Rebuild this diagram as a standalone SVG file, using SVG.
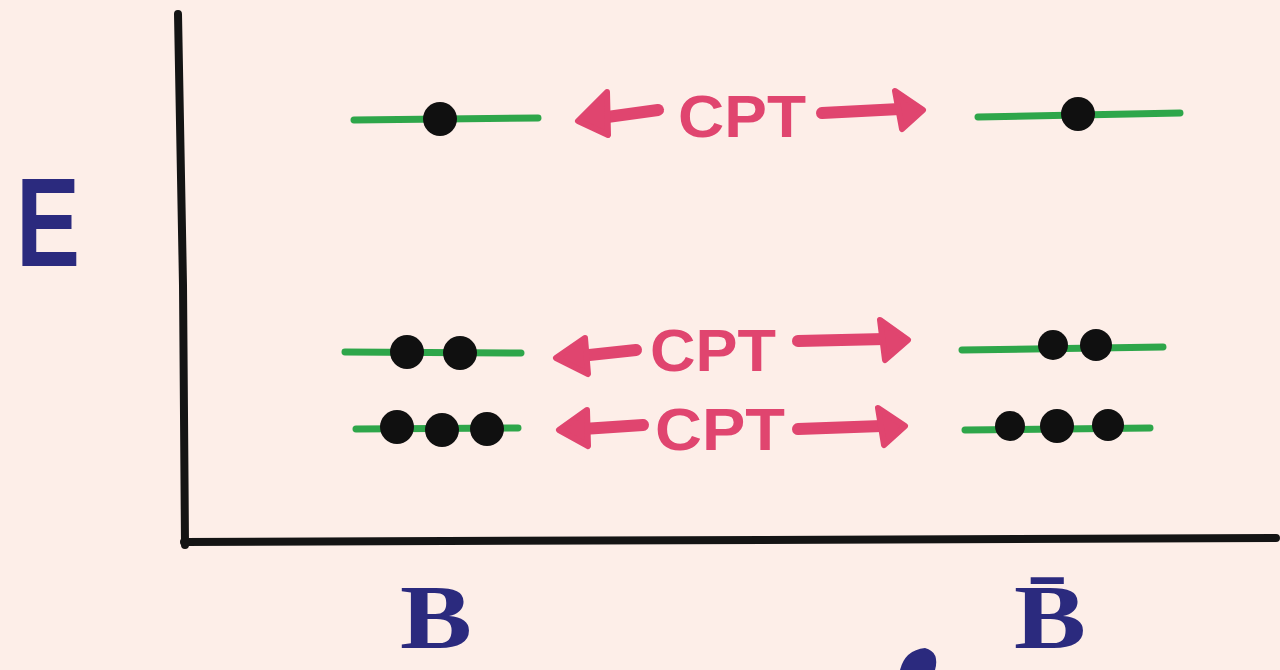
<svg xmlns="http://www.w3.org/2000/svg" width="1280" height="670" viewBox="0 0 1280 670">
<style>
.axis{stroke:#141414;stroke-width:8;stroke-linecap:round;fill:none}
.lvl{stroke:#2ea64a;stroke-width:7;stroke-linecap:round}
.dot{fill:#101010}
.arr{stroke:#e0456f;stroke-width:12;stroke-linecap:round;fill:none}
.head{fill:#e0456f;stroke:#e0456f;stroke-width:6;stroke-linejoin:round}
.cpt{font-family:"Liberation Sans",sans-serif;font-weight:bold;font-size:60px;fill:#e0456f}
.lab{font-family:"Liberation Serif",serif;font-weight:bold;fill:#2b2a7e}
.labs{font-family:"Liberation Sans",sans-serif;font-weight:bold;fill:#2b2a7e}
</style>
<rect width="1280" height="670" fill="#fdeee8"/>
<g id="axes">
<path class="axis" d="M178,14 L183,285 L185,545"/>
<path class="axis" d="M184,542 L1276,538"/>
</g>
<g id="E-label"><text class="labs" x="16" y="266" font-size="126" textLength="64" lengthAdjust="spacingAndGlyphs">E</text></g>
<g id="B-label"><text class="lab" x="400" y="648" font-size="92" textLength="72" lengthAdjust="spacingAndGlyphs">B</text></g>
<g id="Bbar-label"><text class="lab" x="1014" y="648" font-size="92" textLength="72" lengthAdjust="spacingAndGlyphs">B̄</text></g>
<g id="B-level1"><line class="lvl" x1="354" y1="120" x2="538" y2="118"/><circle class="dot" cx="440" cy="119" r="17"/></g>
<g id="Bbar-level1"><line class="lvl" x1="978" y1="117" x2="1180" y2="113"/><circle class="dot" cx="1078" cy="114" r="17"/></g>
<g id="B-level2"><line class="lvl" x1="345" y1="352" x2="521" y2="353"/><circle class="dot" cx="407" cy="352" r="17"/><circle class="dot" cx="460" cy="353" r="17"/></g>
<g id="Bbar-level2"><line class="lvl" x1="962" y1="350" x2="1163" y2="347"/><circle class="dot" cx="1053" cy="345" r="15"/><circle class="dot" cx="1096" cy="345" r="16"/></g>
<g id="B-level3"><line class="lvl" x1="356" y1="429" x2="518" y2="428"/><circle class="dot" cx="397" cy="427" r="17"/><circle class="dot" cx="442" cy="430" r="17"/><circle class="dot" cx="487" cy="429" r="17"/></g>
<g id="Bbar-level3"><line class="lvl" x1="965" y1="430" x2="1150" y2="428"/><circle class="dot" cx="1010" cy="426" r="15"/><circle class="dot" cx="1057" cy="426" r="17"/><circle class="dot" cx="1108" cy="425" r="16"/></g>
<g id="connectors">
<path class="arr" d="M658,110 L600,118"/><path class="head" d="M607,92 L578,121 L608,135 Z"/>
<path class="arr" d="M822,113 L900,109"/><path class="head" d="M895,91 L923,110 L902,129 Z"/>
<path class="arr" d="M636,350 L580,356"/><path class="head" d="M585,338 L556,358 L588,374 Z"/>
<path class="arr" d="M798,341 L885,339"/><path class="head" d="M880,320 L908,340 L885,360 Z"/>
<path class="arr" d="M643,425 L583,429"/><path class="head" d="M587,410 L559,430 L588,446 Z"/>
<path class="arr" d="M798,429 L882,426"/><path class="head" d="M878,408 L905,426 L884,445 Z"/>
</g>
<g id="cpt1"><text class="cpt" x="678" y="137" textLength="128" lengthAdjust="spacingAndGlyphs">CPT</text></g>
<g id="cpt2"><text class="cpt" x="650" y="371" textLength="126" lengthAdjust="spacingAndGlyphs">CPT</text></g>
<g id="cpt3"><text class="cpt" x="655" y="450" textLength="130" lengthAdjust="spacingAndGlyphs">CPT</text></g>
<path d="M900,670 Q905,650 925,648 Q940,652 935,670 Z" fill="#2b2a7e"/>
</svg>
